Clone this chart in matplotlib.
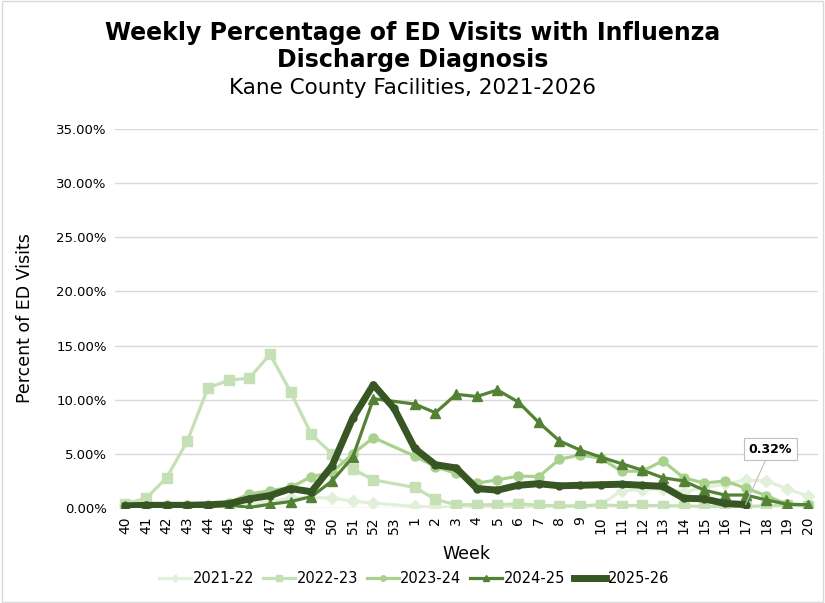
import matplotlib
matplotlib.use("Agg")
import matplotlib.pyplot as plt
from matplotlib.patches import Rectangle

weeks = [40, 41, 42, 43, 44, 45, 46, 47, 48, 49, 50, 51, 52, 53,
         1, 2, 3, 4, 5, 6, 7, 8, 9, 10, 11, 12, 13, 14, 15, 16, 17, 18, 19, 20]

# percent of ED visits, None = no data for that week
s2122 = [0.3, 0.1, 0.1, 0.1, 0.1, 0.0, 0.3, 0.6, 0.9, 1.0, 0.9, 0.65, 0.45, None,
         0.15, 0.1, 0.1, 0.1, 0.1, 0.1, 0.1, 0.1, 0.1, 0.3, 1.6, 1.7, 1.8, 1.5, 1.9, 2.2, 2.6, 2.5, 1.8, 1.1]
s2223 = [0.4, 0.9, 2.8, 6.2, 11.1, 11.8, 12.0, 14.2, 10.7, 6.8, 5.0, 3.6, 2.6, None,
         1.9, 0.8, 0.3, 0.3, 0.3, 0.4, 0.25, 0.2, 0.2, 0.3, 0.2, 0.25, 0.2, 0.2, 0.15, 0.15, 0.15, 0.2, 0.25, 0.2]
s2324 = [0.2, 0.2, 0.3, 0.25, 0.3, 0.5, 1.3, 1.6, 1.9, 2.9, 3.3, 5.0, 6.5, None,
         4.8, 3.8, 3.2, 2.3, 2.6, 2.95, 2.9, 4.5, 4.9, 4.6, 3.4, 3.4, 4.35, 2.8, 2.3, 2.5, 1.85, 1.15, 0.35, 0.3]
s2425 = [0.2, 0.15, 0.2, 0.2, 0.2, 0.3, 0.05, 0.35, 0.6, 1.05, 2.5, 4.7, 10.1, None,
         9.6, 8.8, 10.5, 10.3, 10.9, 9.8, 7.9, 6.2, 5.35, 4.7, 4.1, 3.5, 2.8, 2.5, 1.65, 1.2, 1.2, 0.75, 0.35, 0.3]
s2526 = [0.2, 0.25, 0.25, 0.25, 0.3, 0.4, 0.85, 1.15, 1.8, 1.5, 3.9, 8.3, 11.4, 9.2,
         5.5, 4.0, 3.7, 1.8, 1.65, 2.1, 2.25, 2.05, 2.1, 2.15, 2.2, 2.1, 2.0, 0.9, 0.85, 0.42, 0.32,
         None, None, None]

seasons = ["2021-22", "2022-23", "2023-24", "2024-25", "2025-26"]
series = [s2122, s2223, s2324, s2425, s2526]
colors = ["#e2f0d9", "#c5e0b4", "#a9d18e", "#548235", "#375623"]
markers = ["D", "s", "o", "^", "o"]
widths = [2.3, 2.3, 2.3, 2.3, 5.0]
msizes = [6, 7, 6.5, 7, 5]

fig = plt.figure(figsize=(8.25, 6.03), dpi=100)
ax = fig.add_axes([0.1394, 0.1575, 0.852, 0.6285])

for name, vals, c, m, lw, ms in zip(seasons, series, colors, markers, widths, msizes):
    xs = [i for i, v in enumerate(vals) if v is not None]
    ys = [v for v in vals if v is not None]
    ax.plot(xs, ys, color=c, marker=m, lw=lw, ms=ms, label=name,
            solid_joinstyle="round")

# label on last point of current season
last = max(i for i, v in enumerate(s2526) if v is not None)
ax.annotate(f"{s2526[last]:.2f}%", xy=(last, s2526[last]), xytext=(18, 40),
            textcoords="offset points", ha="center", va="center",
            fontsize=9, fontweight="bold",
            bbox=dict(boxstyle="square,pad=0.35", fc="white", ec="#bfbfbf", lw=0.8),
            arrowprops=dict(arrowstyle="-", color="#bfbfbf", lw=0.8,
                            shrinkA=0, shrinkB=0))

ax.set_xlim(-0.5, len(weeks) - 0.5)
ax.set_ylim(0, 35)
ax.set_yticks(range(0, 36, 5))
ax.set_yticklabels([f"{t:.2f}%" for t in range(0, 36, 5)], fontsize=9.5)
ax.set_xticks(range(len(weeks)))
ax.set_xticklabels([str(w) for w in weeks], rotation=90, fontsize=10)
ax.tick_params(length=0, pad=6)
ax.grid(axis="y", color="#d9d9d9", lw=1)
ax.set_axisbelow(True)
for s in ax.spines.values():
    s.set_visible(False)

ax.set_xlabel("Week", fontsize=12.5, labelpad=8)
ax.set_ylabel("Percent of ED Visits", fontsize=12.5, labelpad=16)

fig.text(0.5, 0.945, "Weekly Percentage of ED Visits with Influenza", ha="center",
         va="center", fontsize=17, fontweight="bold")
fig.text(0.5, 0.9, "Discharge Diagnosis", ha="center", va="center",
         fontsize=17, fontweight="bold")
fig.text(0.5, 0.854, "Kane County Facilities, 2021-2026", ha="center", va="center",
         fontsize=15.5)

fig.legend(loc="center", bbox_to_anchor=(0.502, 0.041), ncol=5, frameon=False,
           fontsize=10.5, handlelength=2.2, columnspacing=0.6, handletextpad=0.1,
           markerscale=0.6)

fig.patches.append(Rectangle((0.002, 0.002), 0.996, 0.996, transform=fig.transFigure,
                             fill=False, ec="#d9d9d9", lw=1))

fig.savefig("out.png", dpi=100)
